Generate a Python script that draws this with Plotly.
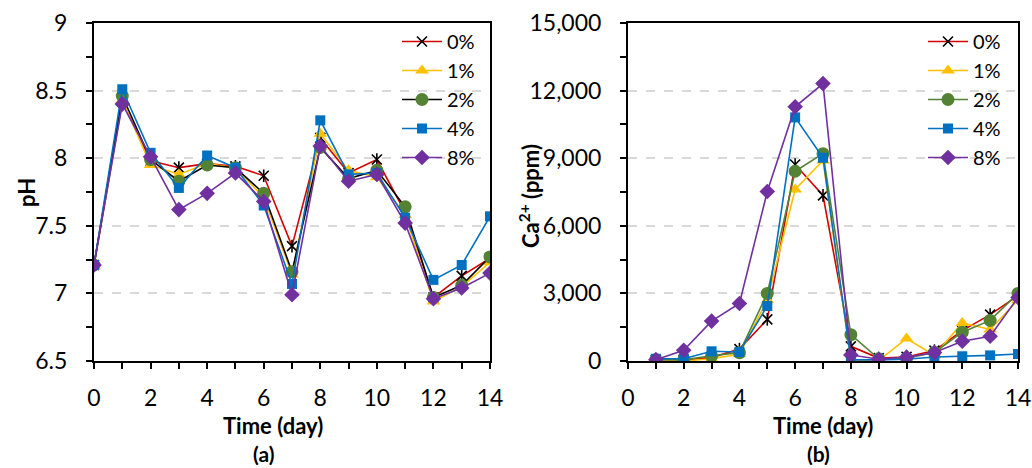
import plotly.graph_objects as go

# ---------------- data ----------------
series_names = ["0%", "1%", "2%", "4%", "8%"]

ph_days = list(range(0, 15))
ph_0 = [7.21, 8.42, 7.98, 7.93, 7.96, 7.94, 7.87, 7.35, 8.15, 7.89, 7.99, 7.60, 6.97, 7.13, 7.26]
ph_1 = [7.20, 8.43, 7.95, 7.88, 7.96, 7.93, 7.71, 7.14, 8.18, 7.91, 7.86, 7.58, 6.94, 7.05, 7.23]
ph_2 = [7.21, 8.46, 7.99, 7.83, 7.95, 7.93, 7.74, 7.16, 8.08, 7.85, 7.91, 7.64, 6.97, 7.06, 7.27]
ph_4 = [7.21, 8.51, 8.04, 7.78, 8.02, 7.93, 7.65, 7.07, 8.28, 7.88, 7.89, 7.56, 7.10, 7.21, 7.57]
ph_8 = [7.21, 8.40, 8.01, 7.62, 7.74, 7.89, 7.68, 6.99, 8.09, 7.83, 7.88, 7.52, 6.96, 7.04, 7.15]

ca_days = list(range(1, 15))
ca_0 = [50, 50, 150, 530, 1850, 8720, 7350, 650, 130, 180, 460, 1350, 2060, 2900]
ca_1 = [0, 0, 100, 300, 2700, 7610, 8900, 30, 20, 1000, 250, 1690, 1400, 2700]
ca_2 = [60, 50, 230, 370, 3000, 8420, 9200, 1170, 100, 120, 380, 1280, 1800, 3000]
ca_4 = [100, 100, 430, 400, 2440, 10810, 9020, 50, 50, 80, 180, 210, 250, 310]
ca_8 = [60, 475, 1770, 2550, 7520, 11280, 12310, 270, 80, 170, 380, 880, 1100, 2820]

ph_ticks = [6.5, 7, 7.5, 8, 8.5, 9]
ph_tick_text = ["6.5", "7", "7.5", "8", "8.5", "9"]
ca_ticks = [0, 3000, 6000, 9000, 12000, 15000]
ca_tick_text = ["0", "3,000", "6,000", "9,000", "12,000", "15,000"]
day_ticks = [0, 2, 4, 6, 8, 10, 12, 14]

# ---------------- styles ----------------
FONT = "Lato, Carlito, Calibri, sans-serif"
line_colors_a = ["#D40000", "#FFC000", "#000000", "#0070C0", "#7030A0"]
line_colors_b = ["#D40000", "#FFC000", "#548235", "#0070C0", "#7030A0"]
marker_colors = ["#000000", "#FFC000", "#548235", "#0070C0", "#7030A0"]
symbols = ["x-thin-open", "triangle-up", "circle", "square", "diamond"]
sizes = [10, 12, 13, 10, 12]

fig = go.Figure()

ph_data = [ph_0, ph_1, ph_2, ph_4, ph_8]
ca_data = [ca_0, ca_1, ca_2, ca_4, ca_8]


def add_series(xs, ys, name, i, xaxis, yaxis, legend, lcolors):
    if i == 0:
        marker = dict(symbol="x-thin-open", size=sizes[i], color="#000000",
                      line=dict(color="#000000", width=1.6))
    else:
        marker = dict(symbol=symbols[i], size=sizes[i], color=marker_colors[i],
                      line=dict(width=0))
    fig.add_trace(go.Scatter(
        x=xs, y=ys, name=name, mode="lines+markers",
        line=dict(color=lcolors[i], width=1.6),
        marker=marker, xaxis=xaxis, yaxis=yaxis, legend=legend,
        legendgroup=legend + name,
    ))
    if i == 0:
        fig.add_trace(go.Scatter(
            x=xs, y=ys, name=name, mode="markers", showlegend=False,
            marker=dict(symbol="line-ns-open", size=9, color="#000000",
                        line=dict(color="#000000", width=1.6)),
            xaxis=xaxis, yaxis=yaxis, legend=legend, legendgroup=legend + name,
        ))


for i, name in enumerate(series_names):
    add_series(ph_days, ph_data[i], name, i, "x", "y", "legend", line_colors_a)
for i, name in enumerate(series_names):
    add_series(ca_days, ca_data[i], name, i, "x2", "y2", "legend2", line_colors_b)

W, H = 1032, 468
xa = [94 / W, 490 / W]
xb = [628 / W, 1018 / W]
yd = [1 - 361 / H, 1 - 23 / H]

tickfont = dict(family=FONT, size=23, color="#000000")
titlefont = dict(family=FONT, size=22, color="#000000", weight="bold")
labelfont = dict(family=FONT, size=21, color="#000000", weight="bold")

common_x = dict(
    range=[0, 14], tickmode="array", tickvals=day_ticks,
    ticks="outside", ticklen=6, tickwidth=2, tickcolor="#000000",
    minor=dict(dtick=1, tick0=0, ticks="outside", ticklen=6, tickwidth=2,
               tickcolor="#000000", showgrid=False),
    showline=True, mirror=True, linecolor="#000000", linewidth=2,
    showgrid=False, zeroline=False, tickfont=tickfont,
    ticklabelstandoff=9, automargin=False,
)
common_y = dict(
    ticks="outside", ticklen=6, tickwidth=2, tickcolor="#000000",
    showline=True, mirror=True, linecolor="#000000", linewidth=2,
    showgrid=True, gridcolor="#D9D9D9", griddash="dash", gridwidth=1.5,
    zeroline=False, tickfont=tickfont, ticklabelstandoff=14, automargin=False,
)

fig.update_layout(
    width=W, height=H,
    margin=dict(l=0, r=0, t=0, b=0),
    paper_bgcolor="white", plot_bgcolor="white",
    font=dict(family=FONT, color="#000000"),
    xaxis=dict(domain=xa, anchor="y", **common_x),
    xaxis2=dict(domain=xb, anchor="y2", **common_x),
    yaxis=dict(
        domain=yd, anchor="x", range=[6.5, 9],
        tickmode="array", tickvals=ph_ticks, ticktext=ph_tick_text,
        minor=dict(dtick=0.25, tick0=6.5, ticks="outside", ticklen=6,
                   tickwidth=2, tickcolor="#000000", showgrid=False),
        **common_y,
    ),
    yaxis2=dict(
        domain=yd, anchor="x2", range=[0, 15000],
        tickmode="array", tickvals=ca_ticks, ticktext=ca_tick_text,
        minor=dict(dtick=1500, tick0=0, ticks="outside", ticklen=6,
                   tickwidth=2, tickcolor="#000000", showgrid=False),
        **common_y,
    ),
    legend=dict(
        x=397 / W, y=1 - 22 / H, xanchor="left", yanchor="top",
        bgcolor="rgba(255,255,255,0)", borderwidth=0,
        font=dict(family=FONT, size=20, color="#000000"),
        tracegroupgap=0, itemwidth=40,
    ),
    legend2=dict(
        x=923 / W, y=1 - 22 / H, xanchor="left", yanchor="top",
        bgcolor="rgba(255,255,255,0)", borderwidth=0,
        font=dict(family=FONT, size=20, color="#000000"),
        tracegroupgap=0, itemwidth=40,
    ),
    showlegend=True,
)

# axis titles and panel labels as annotations
for txt, xc, yc in [("<b>Time (day)</b>", 273, 425), ("<b>Time (day)</b>", 823, 425)]:
    fig.add_annotation(text=txt, x=xc / W, y=1 - yc / H, xref="paper", yref="paper",
                       showarrow=False, font=titlefont, xanchor="center", yanchor="middle")
for txt, xc, yc in [("<b>(a)</b>", 263, 453), ("<b>(b)</b>", 818, 453)]:
    fig.add_annotation(text=txt, x=xc / W, y=1 - yc / H, xref="paper", yref="paper",
                       showarrow=False, font=labelfont, xanchor="center", yanchor="middle")
for txt, xc, yc in [("<b>pH</b>", 26, 193), ("<b>Ca<sup>2+</sup> (ppm)</b>", 529, 196)]:
    fig.add_annotation(text=txt, x=xc / W, y=1 - yc / H, xref="paper", yref="paper",
                       showarrow=False, font=titlefont, textangle=-90,
                       xanchor="center", yanchor="middle")

fig.write_html("out.html")
